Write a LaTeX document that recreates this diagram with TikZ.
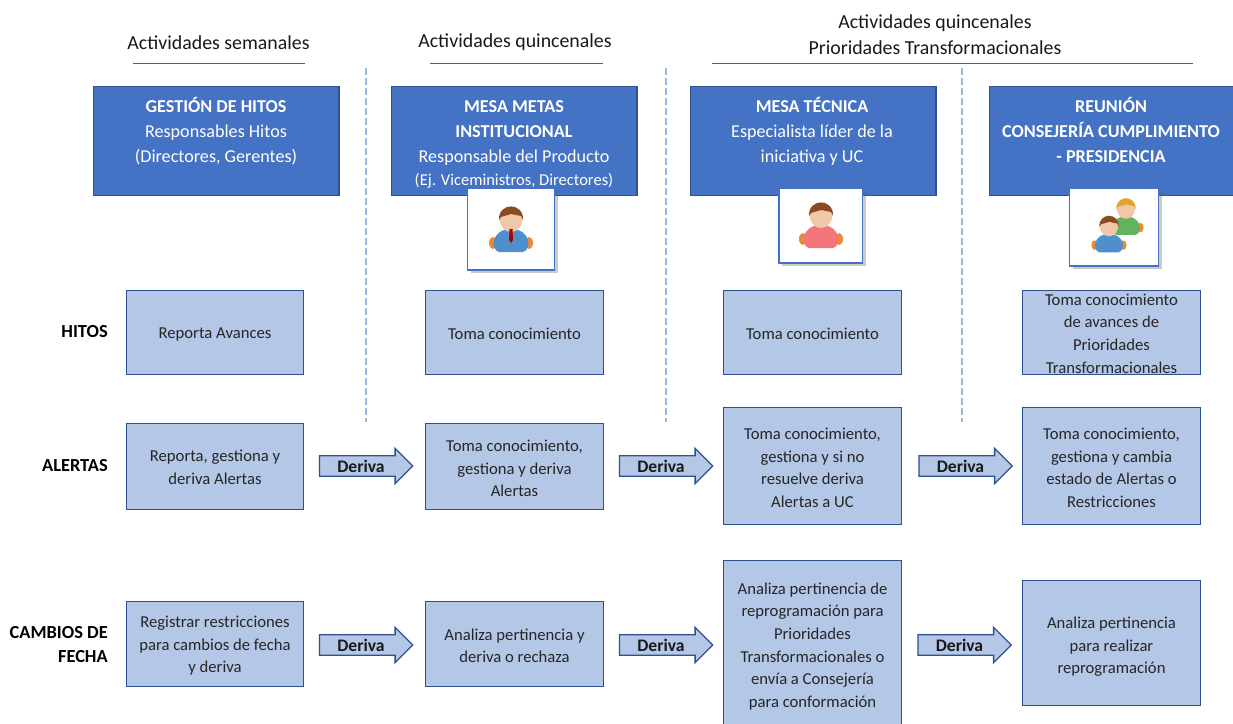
\documentclass[tikz,border=0pt]{standalone}
\usepackage{fontspec}
\setmainfont{Carlito}
\usetikzlibrary{shapes.arrows,shadows,calc}
\definecolor{headblue}{HTML}{4472C4}
\definecolor{headedge}{HTML}{2F528F}
\definecolor{lightblue}{HTML}{B4C7E7}
\definecolor{dashblue}{HTML}{9DB7E3}
\definecolor{ruleblue}{HTML}{3F5F9F}
\definecolor{skin}{HTML}{F0C8A8}
\definecolor{hairbrown}{HTML}{8A4A24}
\definecolor{hairgold}{HTML}{E2A52C}
\definecolor{suit}{HTML}{4F8FCB}
\definecolor{pink}{HTML}{F2757A}
\definecolor{leaf}{HTML}{62B45C}
\definecolor{handor}{HTML}{E58B3A}
\newcommand{\tl}{\rule{0pt}{11.5pt}}
\newcommand{\tls}{\rule{0pt}{10pt}}
\newcommand{\tlb}{\rule{0pt}{14.5pt}}
\newcommand{\hl}{\rule{0pt}{13pt}}
\tikzset{
  x=0.75pt,y=-0.75pt,
  headbox/.style={draw=headedge,line width=1pt,fill=headblue,anchor=north west,inner sep=0pt},
  headtext/.style={text=white,align=center,anchor=north,inner sep=0pt,font=\fontsize{13.6}{18.6}\selectfont},
  lightbox/.style={draw=headedge,line width=1pt,fill=lightblue,text=black!85,align=center,inner sep=0pt,font=\fontsize{12.5}{17}\selectfont},
  toptitle/.style={align=center,text=black!90,font=\fontsize{14.9}{19.5}\selectfont},
  rowtitle/.style={align=right,anchor=east,inner sep=0pt,text=black,font=\bfseries\fontsize{13.8}{18.7}\selectfont},
  derivaarrow/.style={shape=single arrow,draw=headedge,line width=1pt,fill=lightblue,single arrow head extend=3.75pt,single arrow tip angle=90,single arrow head indent=0pt,minimum height=70pt,minimum width=26.5pt,inner sep=0pt,font=\bfseries\fontsize{13.2}{14}\selectfont,text=black!90},
  picbox/.style={draw=headblue,line width=1pt,fill=white,drop shadow={shadow xshift=2.5pt,shadow yshift=-2.5pt,opacity=.35,fill=black!60}},
  sep/.style={draw=dashblue,dash pattern=on 5.5pt off 2pt,line width=1pt},
  toprule/.style={draw=ruleblue,line width=0.6pt},
}
% \iconperson{cx}{cy}{scale}{hair}{body}
\newcommand{\iconperson}[5]{%
  \begin{scope}[shift={(#1,#2)},scale=#3]
  \fill[handor] (-18,17) ellipse (4 and 6);
  \fill[handor] (18,17) ellipse (4 and 6);
  \fill[#5] (-12,26) .. controls (-21,24) and (-20,3) .. (0,3) .. controls (20,3) and (21,24) .. (12,26) -- cycle;
  \fill[skin] (0,-7) ellipse (11.5 and 13);
  \fill[#4] (-12,-6) .. controls (-13,-24) and (13,-24) .. (12,-6) -- (10,-10) -- (0,-12) -- (-10,-9) -- cycle;
  \end{scope}
}
\begin{document}
\begin{tikzpicture}
\useasboundingbox (0,0) rectangle (1233,724);
% column titles
\node[toptitle] (t1) at (218.5,42.5) {Actividades semanales};
\node[toptitle] (t2) at (515,42) {Actividades quincenales};
\node[toptitle] (t3) at (935,34.5) {Actividades quincenales\\Prioridades Transformacionales};
\path[toprule] (133,63.5) coordinate (r1a) -- (305,63.5) coordinate (r1b);
\path[toprule] (430,63.5) coordinate (r2a) -- (603,63.5) coordinate (r2b);
\path[toprule] (712,63.5) coordinate (r3a) -- (1193,63.5) coordinate (r3b);
% separators
\path[sep] (366,68) -- (366,422);
\path[sep] (666,68) -- (666,422);
\path[sep] (962,68) -- (962,422);
% header boxes
\node[headbox,minimum width=184pt,minimum height=81.5pt] (h1) at (93,86) {};
\node[headbox,minimum width=184pt,minimum height=81.5pt] (h2) at (391,86) {};
\node[headbox,minimum width=184pt,minimum height=81.5pt] (h3) at (690,86) {};
\node[headbox,minimum width=190pt,minimum height=81.5pt] (h4) at (989,86) {};
\node[headtext] (h1t) at (216,95.3) {\hl\textbf{GESTIÓN DE HITOS}\\Responsables Hitos\\(Directores, Gerentes)};
\node[headtext] (h2t) at (514,95.3) {\hl\textbf{MESA METAS}\\\textbf{INSTITUCIONAL}\\Responsable del Producto\\[-1.6pt]{\fontsize{12.4}{18.6}\selectfont (Ej. Viceministros, Directores)}};
\node[headtext] (h3t) at (812,95.3) {\hl\textbf{MESA TÉCNICA}\\Especialista líder de la\\iniciativa y UC};
\node[headtext] (h4t) at (1111,95.3) {\hl\textbf{REUNIÓN}\\\textbf{CONSEJERÍA CUMPLIMIENTO}\\\textbf{- PRESIDENCIA}};
% picture boxes
\node[picbox,minimum width=65.5pt,minimum height=61.5pt,inner sep=0pt] (p2) at (511,229) {};
\node[picbox,minimum width=62.5pt,minimum height=56pt,inner sep=0pt] (p3) at (820.5,225.5) {};
\node[picbox,minimum width=66.5pt,minimum height=58.5pt,inner sep=0pt] (p4) at (1114,227) {};
\iconperson{511}{226}{1}{hairbrown}{suit}
\fill[red!70!black] (509.5,229) -- (512.5,229) -- (513,240) -- (511,243) -- (509,240) -- cycle;
\iconperson{821}{222}{1}{hairbrown}{pink}
\iconperson{1126}{214}{0.8}{hairgold}{leaf}
\iconperson{1109}{231.5}{0.8}{hairbrown}{suit}
% row titles
\node[rowtitle] (rh) at (108,332) {HITOS};
\node[rowtitle] (ra) at (108,466) {ALERTAS};
\node[rowtitle] (rc) at (108,644.5) {CAMBIOS DE\\FECHA};
% row 1
\node[lightbox,minimum width=132.5pt,minimum height=63pt] (a1) at (215,332.5) {\tl Reporta Avances};
\node[lightbox,minimum width=133.5pt,minimum height=63pt] (a2) at (514.5,332.5) {\tls Toma conocimiento};
\node[lightbox,minimum width=133.5pt,minimum height=63pt] (a3) at (812.5,332.5) {\tls Toma conocimiento};
\node[lightbox,minimum width=133.5pt,minimum height=63pt] (a4) at (1111.5,332.5) {\tls Toma conocimiento\\de avances de\\Prioridades\\Transformacionales};
% row 2
\node[lightbox,minimum width=132.5pt,minimum height=64.5pt] (b1) at (215,466.5) {\tls Reporta, gestiona y\\deriva Alertas};
\node[lightbox,minimum width=133.5pt,minimum height=64.5pt] (b2) at (514.5,466.5) {\tl Toma conocimiento,\\gestiona y deriva\\Alertas};
\node[lightbox,minimum width=133.5pt,minimum height=87.75pt] (b3) at (812.5,466) {\tl Toma conocimiento,\\gestiona y si no\\resuelve deriva\\Alertas a UC};
\node[lightbox,minimum width=133.5pt,minimum height=87.75pt] (b4) at (1111.5,466) {\tl Toma conocimiento,\\gestiona y cambia\\estado de Alertas o\\Restricciones};
% row 3
\node[lightbox,minimum width=132.5pt,minimum height=63.75pt] (c1) at (215,644) {\tl Registrar restricciones\\para cambios de fecha\\y deriva};
\node[lightbox,minimum width=133.5pt,minimum height=63.75pt] (c2) at (514.5,644) {\tl Analiza pertinencia y\\deriva o rechaza};
\node[lightbox,minimum width=133.5pt,minimum height=125pt,anchor=north] (c3) at (812.5,560) {};
\node[align=center,text=black!85,font=\fontsize{12.5}{17}\selectfont] (c3t) at (812.5,646.5) {Analiza pertinencia de\\reprogramación para\\Prioridades\\Transformacionales o\\envía a Consejería\\para conformación};
\node[lightbox,minimum width=133.5pt,minimum height=93.75pt] (c4) at (1111.5,643) {\tlb Analiza pertinencia\\para realizar\\reprogramación};
% arrows
\node[derivaarrow] (d1) at (361,466) {Deriva};
\node[derivaarrow] (d2) at (661,466) {Deriva};
\node[derivaarrow] (d3) at (960.5,466) {Deriva};
\node[derivaarrow] (e1) at (361,645) {Deriva};
\node[derivaarrow] (e2) at (661,645) {Deriva};
\node[derivaarrow] (e3) at (959.5,645) {Deriva};
\end{tikzpicture}
\end{document}
